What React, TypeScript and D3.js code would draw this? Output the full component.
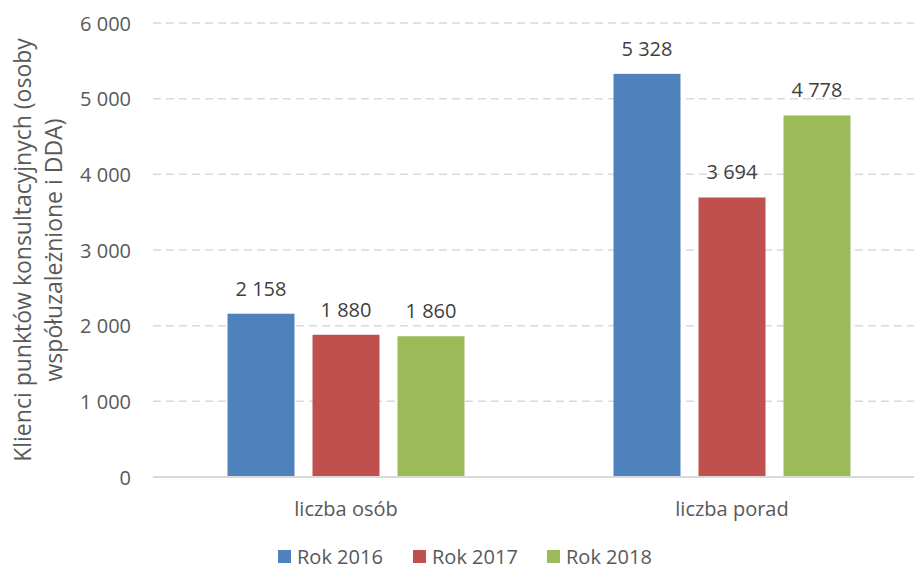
import React, { useEffect, useRef } from "react";
import * as d3 from "d3";

const categories = ["liczba osób", "liczba porad"];
const seriesNames = ["Rok 2016", "Rok 2017", "Rok 2018"];
const values2016 = [2158, 5328];
const values2017 = [1880, 3694];
const values2018 = [1860, 4778];
const colors = ["#4f81bd", "#c0504d", "#9bbb59"];
const yTicks = [0, 1000, 2000, 3000, 4000, 5000, 6000];

const W = 914;
const H = 570;
const FONT = "'Open Sans', Lato, sans-serif";

const fmt = (v: number) => d3.format(",")(v).replace(/,/g, " ");

export default function App() {
  const ref = useRef<SVGSVGElement>(null);

  useEffect(() => {
    const svg = d3.select(ref.current);
    svg.selectAll("*").remove();

    const series = [values2016, values2017, values2018];

    const x0 = d3.scaleBand().domain(categories).range([153, 925]);
    const x1 = d3.scaleBand().domain(seriesNames).range([-118.5, 118.5]).paddingInner(0.212);
    const y = d3.scaleLinear().domain([0, 6000]).range([477, 23]);

    // grid
    svg
      .append("g")
      .selectAll("line")
      .data(yTicks.filter((t) => t > 0))
      .join("line")
      .attr("x1", 153)
      .attr("x2", W)
      .attr("y1", (d) => y(d))
      .attr("y2", (d) => y(d))
      .attr("stroke", "#d9d9d9")
      .attr("stroke-width", 1.5)
      .attr("stroke-dasharray", "8,5");

    // tick labels
    svg
      .append("g")
      .selectAll("text")
      .data(yTicks)
      .join("text")
      .attr("x", 131)
      .attr("y", (d) => y(d) + 7.5)
      .attr("text-anchor", "end")
      .attr("fill", "#595959")
      .style("font-family", FONT)
      .style("font-size", "20px")
      .text((d) => fmt(d));

    // bars
    series.forEach((vals, si) => {
      const g = svg.append("g");
      g.selectAll("rect")
        .data(vals)
        .join("rect")
        .attr("x", (d, i) => x0(categories[i])! + x0.bandwidth() / 2 + x1(seriesNames[si])!)
        .attr("y", (d) => y(d))
        .attr("width", x1.bandwidth())
        .attr("height", (d) => y(0) - y(d))
        .attr("fill", colors[si]);
      g.selectAll("text")
        .data(vals)
        .join("text")
        .attr("x", (d, i) => x0(categories[i])! + x0.bandwidth() / 2 + x1(seriesNames[si])! + x1.bandwidth() / 2)
        .attr("y", (d) => y(d) - 18)
        .attr("text-anchor", "middle")
        .attr("fill", "#404040")
        .style("font-family", FONT)
        .style("font-size", "20px")
        .text((d) => fmt(d));
    });

    // baseline
    svg
      .append("line")
      .attr("x1", 153)
      .attr("x2", W)
      .attr("y1", y(0))
      .attr("y2", y(0))
      .attr("stroke", "#d9d9d9")
      .attr("stroke-width", 2);

    // category labels
    svg
      .append("g")
      .selectAll("text")
      .data(categories)
      .join("text")
      .attr("x", (d) => x0(d)! + x0.bandwidth() / 2)
      .attr("y", 516)
      .attr("text-anchor", "middle")
      .attr("fill", "#595959")
      .style("font-family", FONT)
      .style("font-size", "20px")
      .text((d) => d);

    // y title
    const title = svg
      .append("text")
      .attr("transform", "translate(0,250) rotate(-90)")
      .attr("text-anchor", "middle")
      .attr("fill", "#595959")
      .style("font-family", FONT)
      .style("font-size", "23px");
    title.append("tspan").attr("x", 0).attr("y", 31).text("Klienci punktów konsultacyjnych (osoby");
    title.append("tspan").attr("x", 0).attr("y", 62).text("współuzależnione i DDA)");

    // legend
    const legendX = [278, 413, 547];
    const lg = svg
      .append("g")
      .selectAll("g")
      .data(seriesNames)
      .join("g")
      .attr("transform", (d, i) => `translate(${legendX[i]},550)`);
    lg.append("rect")
      .attr("width", 13)
      .attr("height", 13)
      .attr("fill", (d, i) => colors[i]);
    lg.append("text")
      .attr("x", 19)
      .attr("y", 13.5)
      .attr("fill", "#595959")
      .style("font-family", FONT)
      .style("font-size", "20px")
      .text((d) => d);
  }, []);

  return (
    <div style={{ position: "absolute", left: 0, top: 0 }}>
      <svg ref={ref} width={W} height={H} style={{ background: "#fff", display: "block" }}></svg>
    </div>
  );
}
